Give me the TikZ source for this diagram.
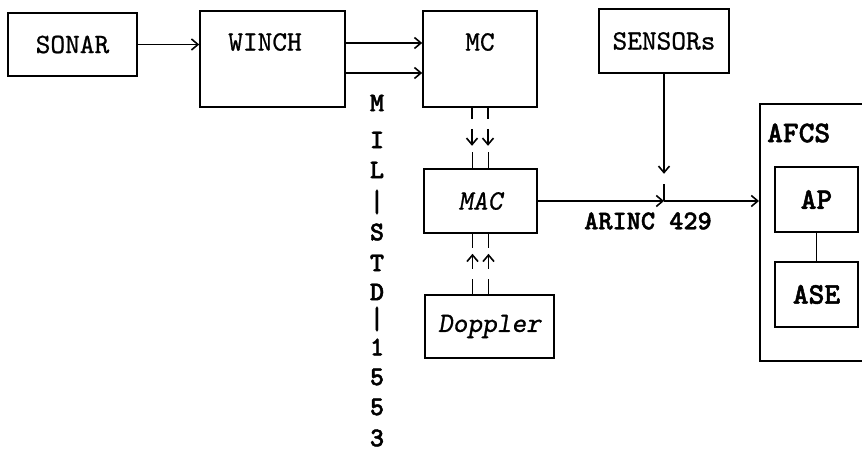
\documentclass[tikz,border=0pt]{standalone}
\usepackage{fontspec}
\newfontfamily\ttrg{lmmono10-regular.otf}[FakeBold=0.8]
\newfontfamily\ttsl{lmmonoslant10-regular.otf}[FakeBold=0.8]
\newfontfamily\ttbf{lmmonolt10-bold.otf}[FakeBold=1.6]
\usetikzlibrary{arrows.meta}
\begin{document}
\begin{tikzpicture}[x=1pt,y=-1pt,
  box/.style={draw, line width=1.6pt, inner sep=0pt},
  lbl/.style={font=\fontsize{28}{30}\selectfont\ttrg},
  slbl/.style={font=\fontsize{28}{30}\selectfont\ttsl},
  blbl/.style={font=\fontsize{27}{29}\selectfont\ttbf},
  bblbl/.style={font=\fontsize{30}{32}\selectfont\ttbf},
  barlbl/.style={font=\fontsize{32}{34}\selectfont\ttrg},
  conn/.style={line width=1.6pt},
  arr/.style={conn, -{Straight Barb[length=6.5pt,width=11pt]}},
]
\clip (0,0) rectangle (862,462);
\fill[white] (0,0) rectangle (862,462);

% boxes
\node[box, minimum width=129pt, minimum height=63pt, lbl] (sonar) at (72.5,44.5) {SONAR};
\node[box, minimum width=145pt, minimum height=96pt] (winch) at (272.5,59) {};
\node[lbl] (winchT) at (265,42) {WINCH};
\node[box, minimum width=114pt, minimum height=96pt] (mc) at (480,59) {};
\node[lbl] (mcT) at (480,42) {MC};
\node[box, minimum width=130pt, minimum height=64pt, lbl] (sensors) at (664,41) {SENSORs};
\node[box, minimum width=113pt, minimum height=64pt, slbl] (mac) at (480.5,201) {MAC};
\node[box, minimum width=129pt, minimum height=63pt, slbl] (doppler) at (489.5,326.5) {Doppler};
\node[box, minimum width=130pt, minimum height=257pt, anchor=north west] (afcs) at (759,103) {};
\node[bblbl, anchor=west, inner sep=0pt] (afcsT) at (767,133) {AFCS};
\node[box, minimum width=83pt, minimum height=65pt, bblbl] (ap) at (816.5,199.5) {AP};
\node[box, minimum width=83pt, minimum height=65pt, bblbl] (ase) at (816.5,294.5) {ASE};
\draw[conn] (ap) -- (ase);

% top row connectors
\draw[arr] (sonar.east) -- (sonar.east -| winch.west);
\draw[arr] ([yshift=16pt]winch.east) -- ([yshift=16pt]winch.east -| mc.west);
\draw[arr] ([yshift=-14pt]winch.east) -- ([yshift=-14pt]winch.east -| mc.west);

% MC -> MAC double bus
\foreach \dx in {-8,8} {
  \draw[conn] ([xshift=\dx pt]mc.south) -- ++(0,11);
  \draw[arr] ([xshift=\dx pt,yshift=-21pt]mc.south) -- ++(0,17);
  \draw[conn] ([xshift=\dx pt]mac.north) -- ++(0,-16);
  % Doppler -> MAC
  \draw[conn] ([xshift=\dx pt]mac.south) -- ++(0,14);
  \draw[arr] ([xshift=\dx pt,yshift=-35pt]mac.south) -- ++(0,-15);
  \draw[conn] ([xshift=\dx pt]mac.south |- doppler.north) -- ++(0,-15);
}

% sensors and ARINC bus
\coordinate (j) at (sensors.south |- mac.east);
\draw[arr] (sensors.south) -- ++(0,100);
\draw[conn] (j) -- ++(0,-17);
\draw[arr] (mac.east) -- (j);
\draw[arr] (j) -- (j -| afcs.west);
\node[blbl] (arinc) at (648,221) {ARINC 429};

% vertical MIL-STD-1553 label
\foreach \ch/\yy [count=\i] in {M/103, I/140, L/170, S/232, T/263, D/292, 1/347, 5/377, 5/407, 3/438}
  \node[blbl] (v\i) at (377,\yy) {\ch};
\node[barlbl] (bar1) at (377,202) {|};
\node[barlbl] (bar2) at (377,319) {|};
\end{tikzpicture}
\end{document}
